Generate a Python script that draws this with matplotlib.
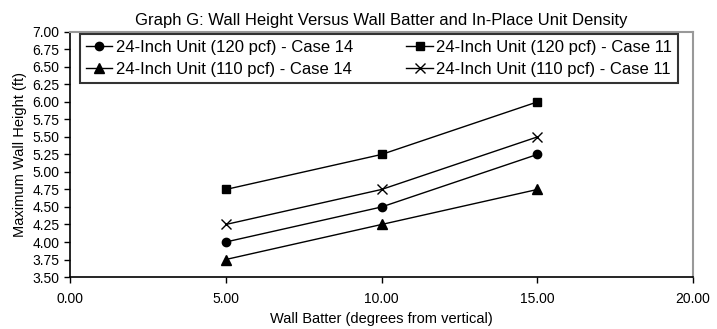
import matplotlib
matplotlib.use("Agg")
import matplotlib.pyplot as plt

plt.rcParams['font.family'] = ['Liberation Sans', 'DejaVu Sans']

batter = [5.0, 10.0, 15.0]
h_120_case14 = [4.00, 4.50, 5.25]
h_120_case11 = [4.75, 5.25, 6.00]
h_110_case14 = [3.75, 4.25, 4.75]
h_110_case11 = [4.25, 4.75, 5.50]

labels = ["24-Inch Unit (120 pcf) - Case 14",
          "24-Inch Unit (120 pcf) - Case 11",
          "24-Inch Unit (110 pcf) - Case 14",
          "24-Inch Unit (110 pcf) - Case 11"]

fig = plt.figure(figsize=(7.17, 3.29), dpi=100)
ax = fig.add_axes([0.0976, 0.158, 0.869, 0.745])

l1, = ax.plot(batter, h_120_case14, color='black', lw=1, marker='o', ms=6)
l2, = ax.plot(batter, h_120_case11, color='black', lw=1, marker='s', ms=6)
l3, = ax.plot(batter, h_110_case14, color='black', lw=1, marker='^', ms=7)
l4, = ax.plot(batter, h_110_case11, color='black', lw=1, marker='x', ms=7, mew=1)

ax.set_xlim(0, 20)
ax.set_ylim(3.5, 7.0)
ax.set_xticks([0, 5, 10, 15, 20])
ax.set_yticks([3.5 + 0.25 * i for i in range(15)])
ax.xaxis.set_major_formatter(lambda v, p: f"{v:.2f}")
ax.yaxis.set_major_formatter(lambda v, p: f"{v:.2f}")
ax.tick_params(direction='out', length=4, width=1, labelsize=10, colors='black')
ax.tick_params(axis='x', pad=7)

for s in ['top', 'right']:
    ax.spines[s].set_color('#999999')
    ax.spines[s].set_linewidth(1.5)
for s in ['left', 'bottom']:
    ax.spines[s].set_color('black')
    ax.spines[s].set_linewidth(1.2)

ax.set_title("Graph G: Wall Height Versus Wall Batter and In-Place Unit Density",
             fontsize=12, pad=5)
ax.set_ylabel("Maximum Wall Height (ft)", fontsize=10.5, labelpad=4)
ax.set_xlabel("Wall Batter (degrees from vertical)", fontsize=10.5, labelpad=4)

leg = ax.legend([l1, l3, l2, l4], [labels[0], labels[2], labels[1], labels[3]],
                ncol=2, loc='upper left', mode='expand',
                bbox_to_anchor=(0.016, 0.78, 0.96, 0.21), borderaxespad=0,
                fontsize=12, frameon=True, fancybox=False,
                handlelength=1.6, handletextpad=0.2, borderpad=0.35,
                labelspacing=0.4, columnspacing=1.0)
leg.get_frame().set_edgecolor('black')
leg.get_frame().set_linewidth(1.5)

fig.savefig("out.png", dpi=100)
